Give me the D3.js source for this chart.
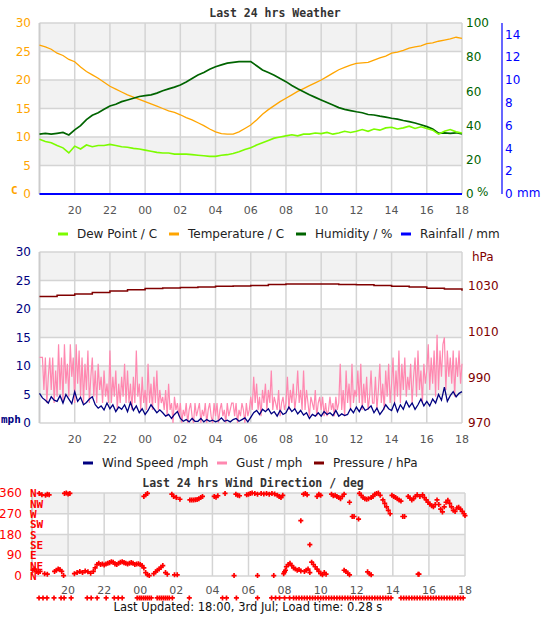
<!DOCTYPE html>
<html lang="en">
<head>
<meta charset="utf-8">
<title>Last 24 hrs Weather</title>
<script src="https://d3js.org/d3.v7.min.js"></script>
<style>
body{margin:0;background:#fff;}
svg text{font-family:"DejaVu Sans",Verdana,sans-serif;}
.title{font-family:"DejaVu Sans Mono",monospace;font-weight:bold;font-size:11.5px;fill:#333;}
.unit{font-family:"DejaVu Sans Mono",monospace;font-weight:bold;font-size:11px;}
.xlbl{font-size:11px;fill:#555;}
.lgd{font-size:12px;fill:#222;}
</style>
</head>
<body>
<script>
// hours after 18:00 yesterday, labels for the x axis
var tickHours = [2,4,6,8,10,12,14,16,18,20,22,24];
var tickLabels = ["20","22","00","02","04","06","08","10","12","14","16","18"];

// top chart, one value every 20 minutes
var temperature = [26.1,25.8,25.4,24.7,24.3,23.6,23.2,22.3,21.5,20.9,20.3,19.6,18.9,18.4,17.9,17.4,17.0,16.6,16.2,15.8,15.4,15.0,14.6,14.3,13.9,13.4,13.0,12.5,12.0,11.4,10.9,10.6,10.5,10.5,10.9,11.5,12.1,13.0,14.0,14.8,15.5,16.2,16.8,17.4,18.0,18.5,19.0,19.5,20.0,20.6,21.2,21.8,22.2,22.6,22.9,23.0,23.1,23.5,23.9,24.2,24.7,24.9,25.2,25.6,25.8,26.0,26.4,26.5,26.8,27.0,27.2,27.5,27.3];
var dewPoint = [9.6,9.2,9.0,8.5,8.1,7.2,8.4,7.9,8.6,8.3,8.5,8.5,8.7,8.5,8.3,8.2,8.0,7.9,7.7,7.5,7.3,7.2,7.2,7.0,7.0,7.0,6.9,6.8,6.7,6.6,6.6,6.8,6.9,7.1,7.4,7.8,8.1,8.6,9.0,9.4,9.8,10.0,10.2,10.4,10.2,10.5,10.5,10.7,10.6,10.8,10.5,10.7,11.0,10.8,11.0,11.3,11.0,11.4,11.2,11.6,11.7,11.4,11.6,11.9,11.5,11.8,11.5,11.2,10.5,11.0,11.3,10.9,10.7];
var humidity = [35.0,35.5,35.0,35.5,36.0,34.5,37.5,40.0,43.5,46.0,47.5,49.5,51.5,52.5,54.0,55.0,56.0,57.0,57.5,58.0,59.0,60.4,61.5,62.5,63.7,65.5,67.5,69.6,71.0,73.0,74.4,75.5,76.5,77.0,77.4,77.4,77.4,75.0,72.5,71.0,69.5,67.5,65.7,63.5,61.5,59.8,58.0,56.5,55.0,53.5,52.0,50.5,49.5,48.8,48.1,47.5,46.5,46.2,45.5,45.0,44.3,43.8,43.0,42.3,41.5,40.5,39.4,38.0,35.5,35.8,35.5,35.8,35.1];
// hourly
var rainfall = [0,0,0,0,0,0,0,0,0,0,0,0,0,0,0,0,0,0,0,0,0,0,0,0,0];

// middle chart, wind every 10 minutes, gust every 5 minutes, pressure hourly
var windSpeed = [5.2,4.4,4.0,3.5,4.6,4.0, 3.8,4.8,3.5,5.0,4.2,3.4, 5.5,3.8,4.5,3.2,3.6,4.2, 4.6,3.2,2.6,3.0,2.3,3.5,
 2.5,3.2,2.0,2.8,2.4,3.2, 2.0,3.6,2.2,3.0,1.8,2.5, 1.5,2.2,3.2,2.5,1.8,2.3, 1.8,1.2,1.5,0.8,1.5,2.0,
 0.8,0.3,0.6,0.2,0.8,0.3, 0.3,0.8,0.2,0.6,0.3,0.5, 0.2,0.4,0.9,0.3,0.5,0.2, 0.6,0.8,0.3,0.6,0.9,0.2,
 1.0,1.8,2.2,1.5,2.4,2.0, 2.5,1.6,2.0,1.2,2.2,1.5, 1.8,2.8,2.0,2.5,1.6,2.2, 1.4,1.8,0.8,1.5,1.2,1.8,
 1.2,2.0,1.5,1.8,1.3,2.2, 1.2,1.6,1.3,1.5,2.5,1.8, 2.8,2.0,3.0,2.2,2.5,3.0, 1.8,2.6,1.5,2.2,3.2,2.5,
 2.2,3.5,2.0,3.2,2.4,3.8, 2.8,3.5,2.4,3.2,4.2,3.0, 3.8,3.0,4.2,3.5,5.0,4.0, 6.3,3.8,4.8,5.5,4.6,5.2, 5.5];
var gust = [
 11.5,11.5,11.5,5.8,11.5,3.5,8.1,11.5,5.8,11.5,3.5,9.2,
 4.6,13.8,5.8,11.5,3.5,13.8,6.9,10.4,4.6,13.8,8.1,11.5,
 3.5,13.8,6.9,12.7,4.6,11.5,3.5,10.4,5.8,12.7,3.5,8.1,
 11.5,4.6,9.2,3.5,10.4,5.8,8.1,3.5,9.2,4.6,6.9,3.5,
 12.7,3.5,8.1,4.6,9.2,2.3,6.9,3.5,8.1,4.6,10.4,3.5,
 9.2,3.5,6.9,2.3,8.1,3.5,12.7,4.6,6.9,2.3,8.1,3.5,
 5.8,2.3,10.4,3.5,6.9,2.3,8.1,3.5,9.2,2.3,5.8,3.5,
 4.6,2.3,5.8,1.2,6.9,2.3,3.5,0,4.6,2.3,3.5,1.2,
 3.5,0,2.3,1.2,3.5,0,2.3,3.5,1.2,0,3.5,1.2,
 2.3,3.5,0,2.3,1.2,3.5,0,2.3,3.5,1.2,0,3.5,
 1.2,3.5,0,2.3,3.5,1.2,2.3,0,3.5,1.2,2.3,3.5,
 3.5,1.2,3.5,0,2.3,1.2,3.5,2.3,0,3.5,1.2,2.3,
 4.6,2.3,8.1,3.5,6.9,2.3,4.6,1.2,5.8,3.5,6.9,2.3,
 5.8,3.5,9.2,2.3,4.6,3.5,2.3,5.8,1.2,3.5,4.6,2.3,
 3.5,8.1,2.3,5.8,3.5,6.9,2.3,4.6,9.2,3.5,5.8,2.3,
 9.2,2.3,5.8,3.5,1.2,4.6,3.5,2.3,5.8,1.2,3.5,4.6,
 2.3,4.6,1.2,3.5,1.2,2.3,4.6,2.3,3.5,1.2,4.6,2.3,
 3.5,10.4,2.3,5.8,1.2,9.2,3.5,6.9,2.3,10.4,3.5,5.8,
 4.6,9.2,3.5,10.4,2.3,6.9,3.5,8.1,2.3,4.6,9.2,3.5,
 3.5,8.1,2.3,5.8,10.4,3.5,6.9,2.3,9.2,4.6,10.4,3.5,
 6.9,11.5,3.5,9.2,4.6,12.7,3.5,10.4,5.8,11.5,4.6,8.1,
 5.8,10.4,3.5,8.1,11.5,4.6,12.7,5.8,9.2,3.5,10.4,6.9,
 9.2,13.8,5.8,11.5,6.9,12.7,4.6,15.5,5.8,12.7,8.1,13.8,
 15.0,5.8,12.7,8.1,11.5,6.9,12.7,4.6,11.5,8.1,12.7,6.9,
 10.4];
var pressure = [1025.5,1026.0,1026.6,1027.2,1027.9,1028.4,1029.0,1029.2,1029.4,1029.7,1030.0,1030.1,1030.3,1030.8,1031.0,1031.0,1031.0,1030.8,1030.6,1030.3,1030.0,1029.6,1029.1,1028.8,1028.0];

// bottom chart, wind direction readings (hour, degrees)
var dirHours = [0.05,0.15,0.25,0.35,0.45,0.7,0.85,1.25,1.35,1.45,1.55,1.65,1.75,2.35,2.5,2.65,2.8,2.95,3.1,3.25,3.4,3.5,3.6,3.7,3.8,3.9,4.0,4.1,4.2,4.3,4.4,4.5,4.6,4.7,4.8,4.9,5.0,5.1,5.2,5.3,5.4,5.5,5.6,5.7,5.8,5.9,6.0,6.1,6.2,6.3,6.4,6.5,6.75,6.85,6.95,7.05,7.15,7.25,7.4,7.5,7.9,8.05,11.2,
 0.4,0.55,0.75,0.85,0.95,1.8,1.9,2.0,2.1,6.2,6.3,6.4,7.75,7.85,8.0,8.2,8.75,8.85,8.95,9.05,9.15,9.25,9.35,9.45,10.1,10.2,10.3,10.7,11.3,11.4,11.5,
 11.9,12.0,12.1,12.2,12.35,12.5,12.7,12.85,13.0,13.15,13.3,13.45,13.6,13.7,13.8,13.9,14.9,15.05,15.15,15.25,15.4,15.8,15.9,16.0,
 16.6,16.7,16.8,16.9,17.0,17.1,17.2,17.3,17.6,17.75,17.85,18.1,18.15,18.25,18.35,18.45,18.55,18.65,18.8,18.9,19.0,19.1,19.2,19.3,19.45,19.55,19.65,19.75,19.85,
 19.95,20.05,20.15,20.25,20.35,20.45,20.55,20.65,20.85,20.95,21.05,21.15,21.25,21.35,21.5,21.65,21.75,21.85,21.95,22.05,22.15,22.25,22.35,
 22.45,22.55,22.65,22.75,22.85,22.95,23.05,23.15,23.25,23.35,23.45,23.55,23.65,23.75,23.85,23.95,24.0,
 12.5,13.4,13.95,14.0,14.05,14.1,14.2,14.3,14.4,14.5,14.6,14.7,14.8,14.9,15.1,15.2,15.3,15.4,15.5,15.6,15.7,15.8,15.9,16.0,16.1,16.2,16.3,17.3,17.4,17.5,17.6,18.6,18.7,18.8,21.4,21.45];
var dirDegrees = [25,30,20,15,20,10,8,20,25,30,28,20,2,10,15,20,15,22,18,12,20,35,50,55,50,52,48,52,55,58,62,60,52,50,55,60,62,58,55,52,55,58,55,50,52,53,50,45,35,15,5,2,10,18,25,30,38,45,15,8,5,5,2,
 358,352,350,355,352,358,360,356,358,345,352,358,355,345,340,333,330,330,330,331,332,335,340,345,345,342,348,358,355,350,348,
 352,355,358,360,358,355,358,356,358,355,358,356,350,345,340,350,240,355,358,352,136,345,355,350,
 355,348,350,345,340,335,345,355,320,258,258,247,358,350,340,335,333,335,340,345,355,358,360,350,330,315,300,285,270,
 350,345,340,335,330,325,258,258,345,338,330,335,345,352,345,352,340,330,320,312,305,300,310,
 330,310,290,278,300,320,328,315,300,285,280,295,298,290,280,270,262,
 2,2,10,18,25,40,50,55,45,35,30,25,28,22,20,25,30,15,60,50,40,30,20,10,5,15,8,25,20,12,5,18,10,5,8,8];
// readings with no direction, shown on the row under the axis
var calmHours = [0.39,0.61,0.83,1.22,1.61,1.78,2.17,3.06,3.28,3.61,4.11,4.56,4.78,5.0,5.83,5.95,6.05,6.17,6.28,6.39,6.5,6.61,6.94,7.06,7.17,7.28,7.39,7.5,7.61,7.78,8.72,10.56,10.78,11.33,12.5,
 13.28,13.5,13.72,14.0,14.28,14.5,14.65,14.8,14.95,15.1,15.25,15.4,15.55,15.7,15.85,16.0,16.15,16.3,16.45,16.6,16.75,16.9,17.05,17.2,17.35,17.5,17.65,17.8,17.95,18.1,18.25,18.4,18.55,18.7,18.85,19.0,19.15,19.3,19.45,19.6,19.75,19.9,
 20.45,20.6,20.75,20.9,21.05,21.2,21.35,21.5,21.65,21.8,21.95,22.1,22.25,22.4,22.55,22.7,22.85,23.0,23.15,23.3,23.45,23.6,23.75,23.9];
var compass = ["N","NE","E","SE","S","SW","W","NW","N"];

var W = 542, H = 619;
var svg = d3.select("body").append("svg").attr("width", W).attr("height", H);

function bands(g, x, y, top, step) {
  for (var v = 0; v < top; v += step) {
    g.append("rect")
      .attr("x", x.range()[0]).attr("width", x.range()[1] - x.range()[0])
      .attr("y", y(v + step)).attr("height", y(v) - y(v + step))
      .attr("fill", (v / step) % 2 == 1 ? "#f2f2f2" : "#fff");
  }
  for (var v = 0; v <= top; v += step) {
    g.append("line").attr("x1", x.range()[0]).attr("x2", x.range()[1])
      .attr("y1", y(v)).attr("y2", y(v)).attr("stroke", "#d4d4d4").attr("stroke-width", 1.5);
  }
  tickHours.forEach(function(h) {
    g.append("line").attr("x1", x(h)).attr("x2", x(h))
      .attr("y1", y(top)).attr("y2", y(0)).attr("stroke", "#d4d4d4").attr("stroke-width", 1.5);
  });
  g.append("line").attr("x1", x.range()[0]).attr("x2", x.range()[0])
    .attr("y1", y(top)).attr("y2", y(0)).attr("stroke", "#ccc").attr("stroke-width", 2);
}

function xLabels(x, yPos) {
  svg.append("g").selectAll("text").data(tickHours).enter().append("text")
    .attr("class", "xlbl").attr("x", function(d) { return x(d); }).attr("y", yPos)
    .attr("text-anchor", "middle").text(function(d, i) { return tickLabels[i]; });
}

function yLabels(vals, y, xPos, anchor, color, size) {
  svg.append("g").selectAll("text").data(vals).enter().append("text")
    .attr("x", xPos).attr("y", function(d) { return y(d); }).attr("dy", "0.35em")
    .attr("text-anchor", anchor).attr("fill", color).style("font-size", size + "px")
    .text(function(d) { return d; });
}

function series(data, step, x, y, color, width, curve) {
  var line = d3.line().x(function(d, i) { return x(i * step); }).y(function(d) { return y(d); })
    .curve(curve || d3.curveLinear);
  svg.append("path").datum(data).attr("d", line).attr("fill", "none")
    .attr("stroke", color).attr("stroke-width", width);
}

function legend(items, yPos) {
  items.forEach(function(it) {
    svg.append("line").attr("x1", it[0]).attr("x2", it[0] + 10).attr("y1", yPos).attr("y2", yPos)
      .attr("stroke", it[2]).attr("stroke-width", 3);
    svg.append("text").attr("class", "lgd").attr("x", it[0] + 19).attr("y", yPos + 4).text(it[1]);
  });
}

// ---------- top chart ----------
var x1 = d3.scaleLinear().domain([0, 24]).range([39.5, 462]);
var yT = d3.scaleLinear().domain([0, 30]).range([194, 23]);
var yHum = d3.scaleLinear().domain([0, 100]).range([194, 23]);
var yRain = d3.scaleLinear().domain([0, 15]).range([194, 23]);

svg.append("text").attr("class", "title").attr("x", 275).attr("y", 17).attr("text-anchor", "middle").text("Last 24 hrs Weather");
bands(svg.append("g"), x1, yT, 30, 5);
yLabels(d3.range(0, 31, 5), yT, 31, "end", "#ffa500", 12);
yLabels(d3.range(0, 101, 20), yHum, 466, "start", "#006400", 12);
yLabels(d3.range(0, 15, 2), yRain, 505, "start", "#0000ff", 12);
svg.append("line").attr("x1", 502).attr("x2", 502).attr("y1", yRain(15)).attr("y2", yRain(0))
  .attr("stroke", "#0000ff").attr("stroke-width", 1.2);
svg.append("text").attr("class", "unit").attr("x", 11).attr("y", 194).attr("fill", "#ffa500").text("C");
svg.append("text").attr("x", 477).attr("y", 196).attr("fill", "#006400").style("font-size", "12px").text("%");
svg.append("text").attr("x", 517).attr("y", 197).attr("fill", "#0000ff").style("font-size", "12px").text("mm");
xLabels(x1, 214);

series(temperature, 1 / 3, x1, yT, "#ffa500", 1.3);
series(humidity, 1 / 3, x1, yHum, "#006400", 1.7);
series(dewPoint, 1 / 3, x1, yT, "#7cfc00", 1.6);
series(rainfall, 1, x1, yRain, "#0000ff", 2);

legend([[58, "Dew Point / C", "#7cfc00"], [169, "Temperature / C", "#ffa500"],
        [296, "Humidity / %", "#006400"], [401, "Rainfall / mm", "#0000ff"]], 234);

// ---------- middle chart ----------
var yWind = d3.scaleLinear().domain([0, 30]).range([423, 252]);
var yPres = d3.scaleLinear().domain([970, 1045]).range([423, 252]);

bands(svg.append("g"), x1, yWind, 30, 5);
yLabels(d3.range(0, 31, 5), yWind, 31, "end", "#000080", 12);
yLabels([970, 990, 1010, 1030], yPres, 468, "start", "#800000", 12);
svg.append("text").attr("x", 472).attr("y", 261).attr("fill", "#800000").style("font-size", "12px").text("hPa");
svg.append("text").attr("class", "unit").attr("x", 1).attr("y", 423).attr("fill", "#000080").text("mph");
xLabels(x1, 443);

series(gust, 1 / 12, x1, yWind, "#ff88b0", 1.2);
series(windSpeed, 1 / 6, x1, yWind, "#000080", 1.3);
series(pressure, 1, x1, yPres, "#800000", 1.5, d3.curveStepAfter);

legend([[83, "Wind Speed /mph", "#000080"], [217, "Gust / mph", "#ff88b0"],
        [314, "Pressure / hPa", "#800000"]], 463);

// ---------- bottom chart ----------
var x3 = d3.scaleLinear().domain([0, 24]).range([32, 465]);
var yDir = d3.scaleLinear().domain([0, 360]).range([576, 493]);

svg.append("text").attr("class", "title").attr("x", 253).attr("y", 487).attr("text-anchor", "middle").text("Last 24 hrs Wind Direction / deg");
bands(svg.append("g"), x3, yDir, 360, 90);
yLabels(d3.range(0, 361, 90), yDir, 22, "end", "#ff0000", 12);
svg.append("g").selectAll("text").data(compass).enter().append("text")
  .attr("x", 30).attr("y", function(d, i) { return yDir(i * 45); }).attr("dy", "0.38em")
  .attr("fill", "#ff0000").style("font-family", "'DejaVu Sans Mono',monospace")
  .style("font-weight", "bold").style("font-size", "11px").text(function(d) { return d; });
xLabels(x3, 594);

var plus = d3.symbol().type(d3.symbolCross).size(14);
svg.append("g").selectAll("path").data(dirHours).enter().append("path")
  .attr("d", plus).attr("fill", "#ff0000")
  .attr("transform", function(d, i) { return "translate(" + x3(d) + "," + yDir(dirDegrees[i]) + ")"; });
svg.append("g").selectAll("path").data(calmHours).enter().append("path")
  .attr("d", plus).attr("fill", "#ff0000")
  .attr("transform", function(d) { return "translate(" + x3(d) + "," + yDir(-95) + ")"; });

svg.append("text").attr("x", 248).attr("y", 611).attr("text-anchor", "middle")
  .style("font-size", "11.5px").attr("fill", "#111")
  .text("Last Updated: 18:00, 3rd Jul; Load time: 0.28 s");
</script>
</body>
</html>
